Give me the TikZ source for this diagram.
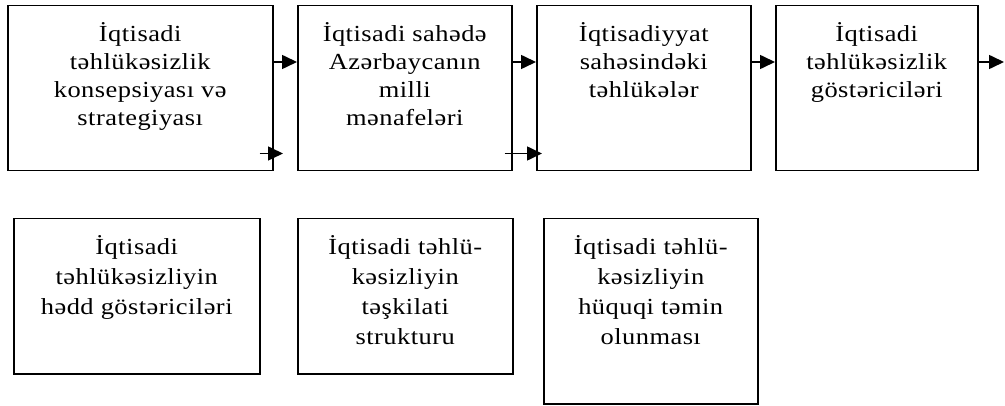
\documentclass[tikz,border=0pt]{standalone}
\usepackage{fontspec}
\setmainfont{Liberation Serif}[FakeStretch=1.15,LetterSpace=2]
\usetikzlibrary{arrows.meta}
\newcommand\boxtxt[4]{\vbox to #2{\hsize=#1\relax\parindent=0pt\parskip=0pt\centering\baselineskip=#3\relax\lineskiplimit=-100pt\rule{0pt}{36pt}#4\par\vfill}}
\tikzset{
  nbox/.style={draw, line width=1.5pt, inner sep=0pt, anchor=north west, font=\fontsize{23}{28}\selectfont},
  arr/.style={line width=1.6pt, -{Triangle[length=15pt,width=14pt]}},
}
\begin{document}
\begin{tikzpicture}[x=1pt,y=-1pt]
\useasboundingbox (0,0) rectangle (1005,406);
\node[nbox, minimum width=265pt, minimum height=165pt] (b1) at (7,5)
  {\boxtxt{260pt}{165pt}{28pt}{İqtisadi\\təhlükəsizlik\\konsepsiyası və\\strategiyası}};
\node[nbox, minimum width=214pt, minimum height=165pt] (b2) at (297,5)
  {\boxtxt{210pt}{165pt}{28pt}{İqtisadi sahədə\\Azərbaycanın\\milli\\mənafeləri}};
\node[nbox, minimum width=214pt, minimum height=165pt] (b3) at (536,5)
  {\boxtxt{210pt}{165pt}{28pt}{İqtisadiyyat\\sahəsindəki\\təhlükələr}};
\node[nbox, minimum width=202pt, minimum height=165pt] (b4) at (775,5)
  {\boxtxt{198pt}{165pt}{28pt}{İqtisadi\\təhlükəsizlik\\göstəriciləri}};
\node[nbox, minimum width=246pt, minimum height=155pt] (b5) at (13,218)
  {\boxtxt{242pt}{155pt}{30pt}{İqtisadi\\təhlükəsizliyin\\hədd göstəriciləri}};
\node[nbox, minimum width=215pt, minimum height=155pt] (b6) at (297,218)
  {\boxtxt{211pt}{155pt}{30pt}{İqtisadi təhlü-\\kəsizliyin\\təşkilati\\strukturu}};
\node[nbox, minimum width=214pt, minimum height=185pt] (b7) at (543,218)
  {\boxtxt{210pt}{185pt}{30pt}{İqtisadi təhlü-\\kəsizliyin\\hüquqi təmin\\olunması}};
\coordinate (out4) at (1004,62);
\draw[arr] ([yshift=-57pt]b1.north east) -- ([yshift=-57pt]b2.north west);
\draw[arr] ([yshift=-57pt]b2.north east) -- ([yshift=-57pt]b3.north west);
\draw[arr] ([yshift=-57pt]b3.north east) -- ([yshift=-57pt]b4.north west);
\draw[arr] ([yshift=-57pt]b4.north east) -- (out4);
\coordinate (s1) at ([xshift=-14pt,yshift=18pt]b1.south east);
\coordinate (e1) at ([xshift=-14pt,yshift=18pt]b2.south west);
\draw[arr] (s1) -- (e1);
\coordinate (s2) at ([xshift=-8pt,yshift=18pt]b2.south east);
\coordinate (e2) at ([xshift=6pt,yshift=18pt]b3.south west);
\draw[arr] (s2) -- (e2);
\end{tikzpicture}
\end{document}
